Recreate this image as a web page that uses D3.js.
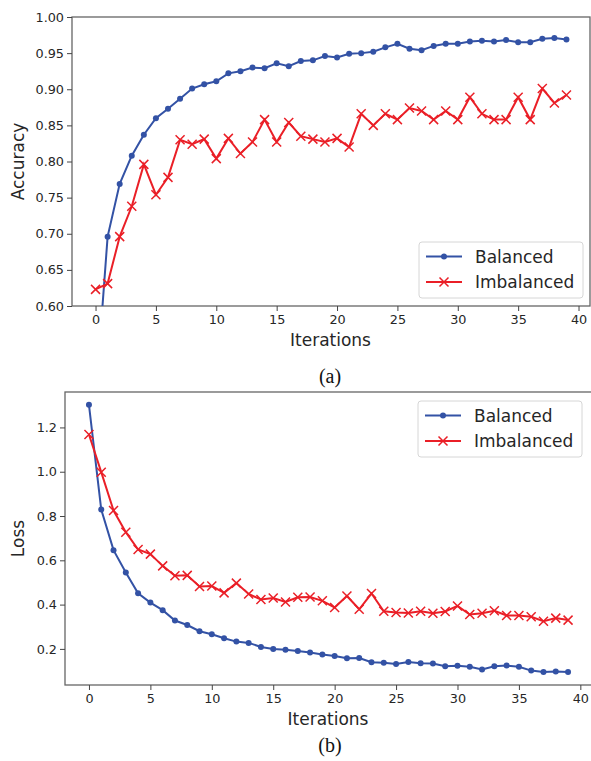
<!DOCTYPE html>
<html>
<head>
<meta charset="utf-8">
<script src="https://cdn.jsdelivr.net/npm/d3@7"></script>
<style>
  body { margin: 0; background: #fff; }
  svg { display: block; }
  .tick text { font-family: "DejaVu Sans", sans-serif; font-size: 12.8px; fill: #262626; }
  .axis-label { font-family: "DejaVu Sans", sans-serif; font-size: 17px; fill: #262626; }
  .legend text { font-family: "DejaVu Sans", sans-serif; font-size: 17px; fill: #262626; }
  .caption { font-family: "Liberation Serif", "Times New Roman", serif; font-size: 20px; fill: #111; }
</style>
</head>
<body>
<script>
// values
const iterations = d3.range(40);

const accBalanced = [0.47, 0.696, 0.769, 0.808, 0.837, 0.860, 0.873, 0.887, 0.901, 0.907,
  0.911, 0.922, 0.925, 0.930, 0.929, 0.936, 0.932, 0.939, 0.940, 0.946,
  0.944, 0.949, 0.950, 0.952, 0.958, 0.963, 0.956, 0.954, 0.960, 0.963,
  0.963, 0.966, 0.967, 0.966, 0.968, 0.965, 0.965, 0.970, 0.971, 0.969];

const accImbalanced = [0.623, 0.631, 0.696, 0.738, 0.796, 0.754, 0.778, 0.830, 0.824, 0.831,
  0.804, 0.832, 0.811, 0.827, 0.858, 0.827, 0.854, 0.835, 0.831, 0.827,
  0.832, 0.820, 0.866, 0.850, 0.866, 0.858, 0.874, 0.870, 0.858, 0.870,
  0.858, 0.889, 0.866, 0.858, 0.858, 0.889, 0.858, 0.901, 0.881, 0.892];

const lossBalanced = [1.302, 0.829, 0.646, 0.545, 0.451, 0.409, 0.375, 0.328, 0.308, 0.280,
  0.266, 0.248, 0.233, 0.227, 0.209, 0.200, 0.196, 0.190, 0.184, 0.175,
  0.168, 0.158, 0.159, 0.140, 0.137, 0.132, 0.141, 0.135, 0.134, 0.122,
  0.124, 0.119, 0.107, 0.122, 0.125, 0.119, 0.102, 0.096, 0.098, 0.096];

const lossImbalanced = [1.168, 0.998, 0.825, 0.727, 0.649, 0.628, 0.575, 0.530, 0.532, 0.482,
  0.484, 0.453, 0.497, 0.448, 0.423, 0.430, 0.412, 0.433, 0.434, 0.417,
  0.387, 0.439, 0.379, 0.450, 0.370, 0.364, 0.362, 0.370, 0.361, 0.369,
  0.394, 0.355, 0.361, 0.372, 0.351, 0.351, 0.345, 0.325, 0.339, 0.330];

const seriesNames = ["Balanced", "Imbalanced"];
const xTicks = [0, 5, 10, 15, 20, 25, 30, 35, 40];
const accTicks = [0.60, 0.65, 0.70, 0.75, 0.80, 0.85, 0.90, 0.95, 1.00];
const lossTicks = [0.2, 0.4, 0.6, 0.8, 1.0, 1.2];

const blue = "#3352a5";
const red = "#ea1f27";

const svg = d3.select("body").append("svg")
  .attr("width", 591)
  .attr("height", 761);

function drawPanel(opt) {
  const x = d3.scaleLinear().domain([-1.95, 40.95]).range([opt.left, opt.right]);
  const y = d3.scaleLinear().domain(opt.yDomain).range([opt.bottom, opt.top]);
  const g = svg.append("g");

  g.append("clipPath").attr("id", opt.id)
    .append("rect")
    .attr("x", opt.left).attr("y", opt.top)
    .attr("width", opt.right - opt.left).attr("height", opt.bottom - opt.top);

  // frame
  g.append("rect")
    .attr("x", opt.left).attr("y", opt.top)
    .attr("width", opt.right - opt.left).attr("height", opt.bottom - opt.top)
    .attr("fill", "none").attr("stroke", "#666").attr("stroke-width", 1.3);

  const xAxis = d3.axisBottom(x).tickValues(xTicks).tickFormat(d3.format("d"))
    .tickSize(5).tickPadding(4);
  g.append("g")
    .attr("transform", `translate(0,${opt.bottom})`)
    .call(xAxis)
    .call(a => a.select(".domain").remove())
    .call(a => a.selectAll("line").attr("stroke", "#444"));

  const yAxis = d3.axisLeft(y).tickValues(opt.yTicks).tickFormat(d3.format(opt.yFormat))
    .tickSize(5).tickPadding(3);
  g.append("g")
    .attr("transform", `translate(${opt.left},0)`)
    .call(yAxis)
    .call(a => a.select(".domain").remove())
    .call(a => a.selectAll("line").attr("stroke", "#444"));

  g.append("text").attr("class", "axis-label")
    .attr("x", (opt.left + opt.right) / 2 - 0.5).attr("y", opt.bottom + 40)
    .attr("text-anchor", "middle")
    .text("Iterations");

  g.append("text").attr("class", "axis-label")
    .attr("transform", `translate(24,${(opt.top + opt.bottom) / 2}) rotate(-90)`)
    .attr("text-anchor", "middle")
    .text(opt.yLabel);

  g.append("text").attr("class", "caption")
    .attr("x", 330).attr("y", opt.captionY)
    .attr("text-anchor", "middle")
    .text(opt.caption);

  const line = d3.line().x((d, i) => x(iterations[i])).y(d => y(d));
  const plot = g.append("g").attr("clip-path", `url(#${opt.id})`);

  plot.append("path").datum(opt.blue)
    .attr("d", line).attr("fill", "none")
    .attr("stroke", blue).attr("stroke-width", 2);
  plot.selectAll("circle").data(opt.blue).join("circle")
    .attr("cx", (d, i) => x(iterations[i])).attr("cy", d => y(d))
    .attr("r", 3).attr("fill", blue);

  plot.append("path").datum(opt.red)
    .attr("d", line).attr("fill", "none")
    .attr("stroke", red).attr("stroke-width", 2);
  const s = 4.5;
  plot.selectAll("path.mark").data(opt.red).join("path")
    .attr("class", "mark")
    .attr("d", (d, i) => {
      const cx = x(iterations[i]), cy = y(d);
      return `M${cx - s},${cy - s}L${cx + s},${cy + s}M${cx - s},${cy + s}L${cx + s},${cy - s}`;
    })
    .attr("stroke", red).attr("stroke-width", 1.5).attr("fill", "none");

  // legend
  const lg = g.append("g").attr("class", "legend")
    .attr("transform", `translate(${opt.legendX},${opt.legendY})`);
  lg.append("rect")
    .attr("x", 0).attr("y", 0).attr("width", 164).attr("height", 56)
    .attr("rx", 3).attr("fill", "#fff").attr("fill-opacity", 0.85)
    .attr("stroke", "#d6d6d6").attr("stroke-width", 1);
  seriesNames.forEach((name, k) => {
    const cy = 14.5 + k * 25.5;
    const col = k === 0 ? blue : red;
    lg.append("line").attr("x1", 7).attr("x2", 43).attr("y1", cy).attr("y2", cy)
      .attr("stroke", col).attr("stroke-width", 2);
    if (k === 0) {
      lg.append("circle").attr("cx", 25).attr("cy", cy).attr("r", 3).attr("fill", col);
    } else {
      lg.append("path")
        .attr("d", `M${25 - s},${cy - s}L${25 + s},${cy + s}M${25 - s},${cy + s}L${25 + s},${cy - s}`)
        .attr("stroke", col).attr("stroke-width", 1.5);
    }
    lg.append("text").attr("x", 56).attr("y", cy + 6).text(name);
  });
}

drawPanel({
  id: "clipA", left: 72, right: 590, top: 17, bottom: 306,
  yDomain: [0.6, 1.0], yTicks: accTicks, yFormat: ".2f", yLabel: "Accuracy",
  blue: accBalanced, red: accImbalanced,
  legendX: 419, legendY: 242, caption: "(a)", captionY: 383
});

drawPanel({
  id: "clipB", left: 65, right: 592, top: 392, bottom: 685,
  yDomain: [0.037, 1.360], yTicks: lossTicks, yFormat: ".1f", yLabel: "Loss",
  blue: lossBalanced, red: lossImbalanced,
  legendX: 418, legendY: 401, caption: "(b)", captionY: 752
});
</script>
</body>
</html>
